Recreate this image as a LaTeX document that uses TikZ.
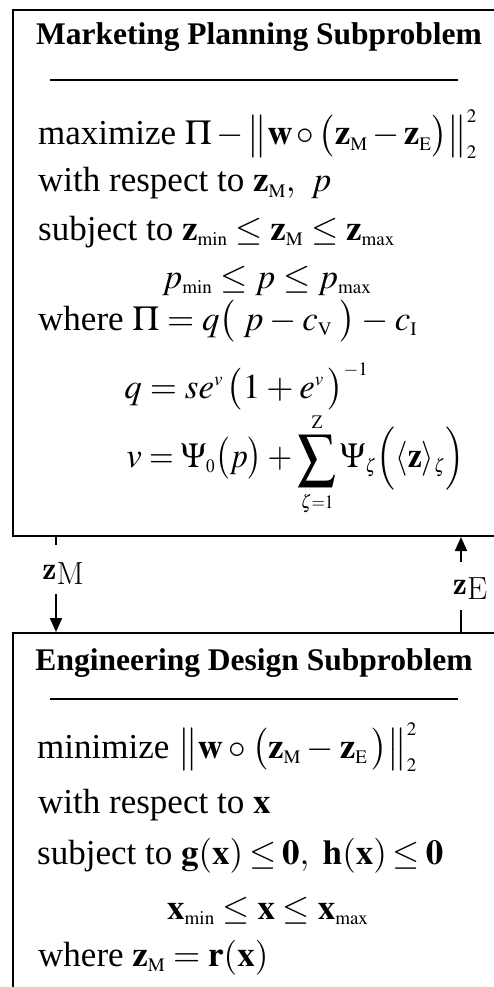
\documentclass[tikz,border=0pt]{standalone}
\usepackage{fontspec}
\usepackage{graphicx}
\newfontfamily\tnr{Liberation Serif}
\IfFontExistsTF{texgyretermes-math.otf}
 {\usepackage{unicode-math}\setmathfont{texgyretermes-math.otf}}
 {\IfFileExists{mathptmx.sty}{\usepackage{mathptmx}}{}}
\usetikzlibrary{arrows.meta}
\DeclareMathSizes{35}{35}{19}{14}
\newcommand{\lmfont}{\fontencoding{TU}\fontfamily{lmr}\selectfont}
\newcommand{\tightmath}{\medmuskip=3mu plus 3mu minus 3mu\thickmuskip=4mu plus 4mu minus 4mu\thinmuskip=2mu plus 2mu minus 2mu}
\newcommand{\closemath}{\medmuskip=2mu\thickmuskip=3mu\thinmuskip=1mu}
\newcommand{\fitbox}[2]{\hbox to #1{$#2$}}
\newcommand{\squeezebox}[2]{\resizebox{#1}{\height}{$#2$}}
\newcommand{\bigsum}{\mathop{\raisebox{-5pt}{\scalebox{1.2}{$\displaystyle\sum$}}}\limits}
\tikzset{
  panel/.style={draw, line width=2pt, rectangle, inner sep=0pt, anchor=north west},
  rulebar/.style={line width=1.5pt},
  ttl/.style={inner sep=0pt, anchor=base, font=\tnr\bfseries\fontsize{31.5}{36}\selectfont},
  ln/.style={inner sep=0pt, anchor=base west, font=\tnr\fontsize{35}{42}\selectfont\tightmath},
  lnr/.style={ln, anchor=base east},
  lbl/.style={inner sep=0pt, font=\lmfont\fontsize{32}{32}\selectfont},
  link/.style={line width=2pt},
  tip/.style={line width=2pt, -{Triangle[length=14pt,width=12pt]}}
}
\begin{document}
\begin{tikzpicture}[x=1pt,y=-1pt]
\useasboundingbox (0,0) rectangle (494,987);
\clip (0,0) rectangle (494,987);
% panels
\node[panel, minimum width=498pt, minimum height=526pt] (mkt) at (12,9) {};
\node[panel, minimum width=498pt, minimum height=420pt] (eng) at (12,632) {};
% marketing text
\node[ttl] (t1) at (259,45) {Marketing Planning Subproblem};
\draw[rulebar] (50,80) -- (458,80);
\node[ln] (m1) at (38,145) {maximize \fitbox{292pt}{\Pi - \bigl\|\mathbf{w}\circ\bigl(\mathbf{z}_{\mathrm{M}} - \mathbf{z}_{\mathrm{E}}\bigr)\bigr\|_2^2}};
\node[ln] (m2) at (38,192) {with respect to $\mathbf{z}_{\mathrm{M}},\;\, p$};
\node[ln] (m3) at (38,240) {subject to $\mathbf{z}_{\min} \le \mathbf{z}_{\mathrm{M}} \le \mathbf{z}_{\max}$};
\node[ln] (m4) at (162,288) {$p_{\min} \le p \le p_{\max}$};
\node[ln] (m5) at (38,330) {where $\Pi = q\bigl(\;p - c_{\mathrm{V}}\;\bigr) - c_{\mathrm{I}}$};
\node[lnr] (m6a) at (142,398) {$q$};
\node[ln] (m6b) at (142,398) {${}= se^{v}\,\bigl(1+e^{v}\,\bigr)^{-1}$};
\node[lnr] (m7a) at (142,467) {$v$};
\node[ln] (m7b) at (142,467) {\squeezebox{322pt}{{}= \Psi_0\bigl(p\bigr) + \bigsum_{\zeta=1}^{\mathrm{Z}} \Psi_{\zeta}\Bigl(\langle\mathbf{z}\rangle_{\zeta}\Bigr)}};
% engineering text
\node[ttl] (t2) at (254,670) {Engineering Design Subproblem};
\draw[rulebar] (50,699) -- (458,699);
\node[ln] (e1) at (37,758) {minimize $\bigl\|\mathbf{w}\circ\bigl(\mathbf{z}_{\mathrm{M}} - \mathbf{z}_{\mathrm{E}}\,\bigr)\bigr\|_2^2$};
\node[ln] (e2) at (38,813) {with respect to $\mathbf{x}$};
\node[ln] (e3) at (37,864) {subject to {\closemath$\mathbf{g}(\mathbf{x})\le\mathbf{0},\;\;\mathbf{h}(\mathbf{x})\le\mathbf{0}$}};
\node[ln] (e4) at (167,919) {$\mathbf{x}_{\min}\le\mathbf{x}\le\mathbf{x}_{\max}$};
\node[ln] (e5) at (38,966) {where $\mathbf{z}_{\mathrm{M}} = \mathbf{r}(\mathbf{x})$};
% connectors
\coordinate (zmx) at (56,0);
\coordinate (zex) at (461,0);
\node[lbl] (zml) at (63,574) {\textbf{z}\raisebox{-5pt}{M}};
\node[lbl] (zel) at (470,589) {\textbf{z}\raisebox{-5pt}{E}};
\coordinate (zma) at (56,545);
\coordinate (zmb) at (56,594);
\coordinate (zea) at (461,562);
\coordinate (zeb) at (461,610);
\draw[link] (mkt.south -| zmx) -- (zma);
\draw[tip] (zmb) -- (eng.north -| zmx);
\draw[link] (eng.north -| zex) -- (zeb);
\draw[tip] (zea) -- (mkt.south -| zex);
\end{tikzpicture}
\end{document}
